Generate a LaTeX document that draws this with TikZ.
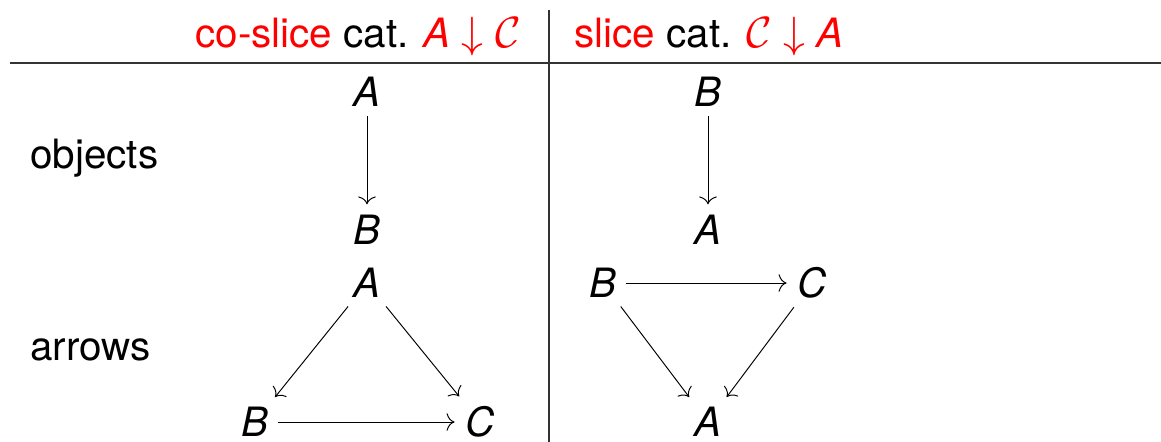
\documentclass[tikz,border=0pt]{standalone}
\usepackage{fontspec}
\setmainfont{TeX Gyre Heros}
\usetikzlibrary{positioning,arrows.meta}

\newcommand{\cellsize}{\fontsize{23}{28}\selectfont}

\tikzset{
  obj/.style={inner sep=4pt, font=\cellsize\itshape},
  lbl/.style={inner sep=0pt, anchor=west},
  map/.style={-{Computer Modern Rightarrow[length=4.5pt,width=10pt]},
    line width=0.55pt, shorten <=1pt, shorten >=2pt},
  rulex/.style={line width=1pt, black!80},
}

\begin{document}
\begin{tikzpicture}[x=0.02cm, y=-0.02cm, font=\cellsize]
  \useasboundingbox (0,0) rectangle (1161,442);

  % table lines
  \draw[rulex] (10,63) -- (1161,63);
  \draw[rulex] (549,10) -- (549,442);

  % header
  \node[inner sep=0pt, anchor=base east] (hdl) at (521,48)
    {\textcolor{red}{co-slice} cat. \textcolor{red}{\textit{A} $\downarrow$ $\mathcal{C}$}};
  \node[inner sep=0pt, anchor=base west] (hdr) at (574,48)
    {\textcolor{red}{slice} cat. \textcolor{red}{$\mathcal{C}$ $\downarrow$ \textit{A}}};

  % row labels
  \node[lbl] (objects) at (30,158) {objects};
  \node[lbl] (arrows) at (30,350) {arrows};

  % objects, co-slice
  \node[obj] (oA) at (367,92) {A};
  \node[obj] (oB) at (367,230) {B};
  \draw[map] (oA) -- (oB);

  % objects, slice
  \node[obj] (sB) at (708,92) {B};
  \node[obj] (sA) at (708,230) {A};
  \draw[map] (sB) -- (sA);

  % arrows, co-slice
  \node[obj] (aA) at (367,283) {A};
  \node[obj] (aB) at (255,422) {B};
  \node[obj] (aC) at (480,422) {C};
  \draw[map] (aA) -- (aB);
  \draw[map] (aA) -- (aC);
  \draw[map] (aB) -- (aC);

  % arrows, slice
  \node[obj] (tB) at (603,283) {B};
  \node[obj] (tC) at (812,283) {C};
  \node[obj] (tA) at (708,422) {A};
  \draw[map] (tB) -- (tC);
  \draw[map] (tB) -- (tA);
  \draw[map] (tC) -- (tA);
\end{tikzpicture}
\end{document}
